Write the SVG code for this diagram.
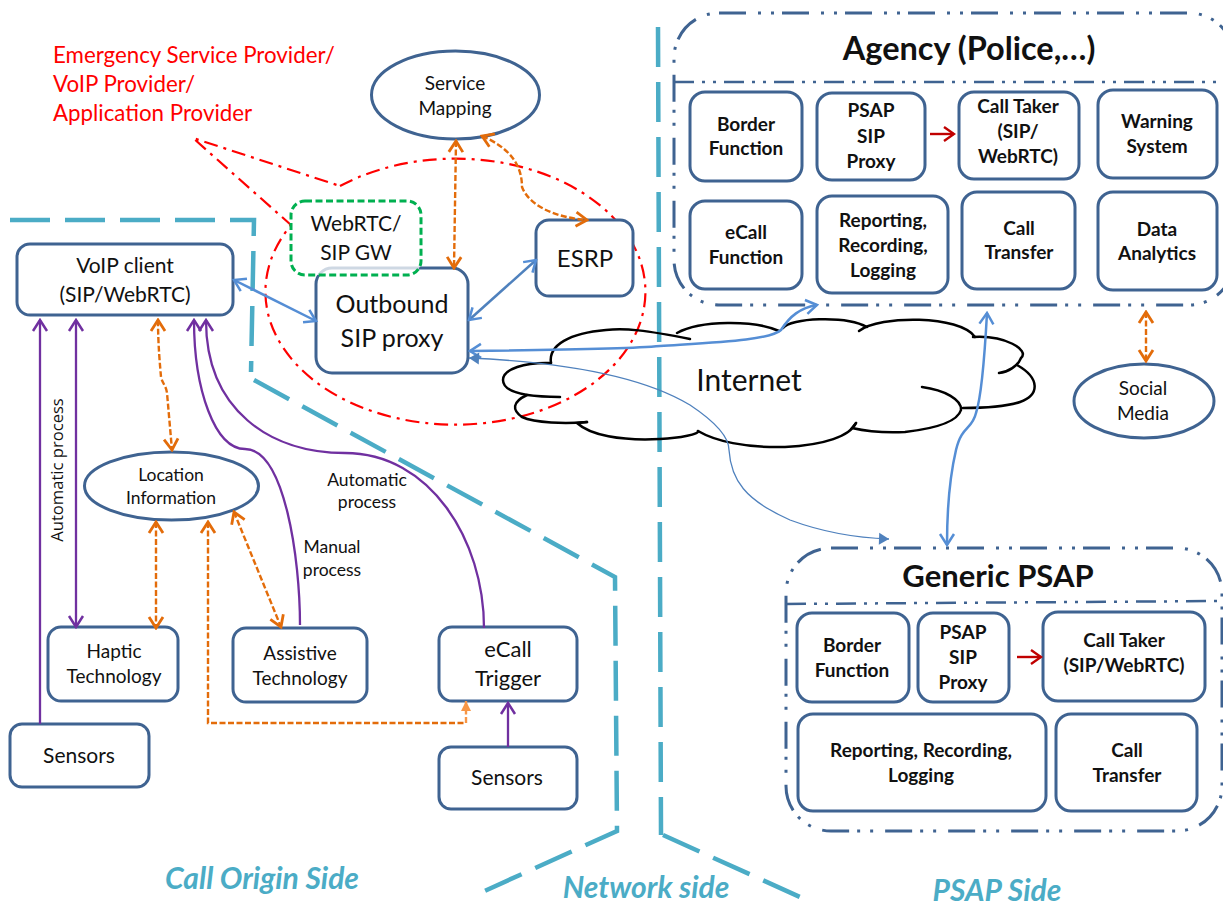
<svg xmlns="http://www.w3.org/2000/svg" width="1223" height="905" viewBox="0 0 1223 905">
<style>
text{font-family:"Lato","Carlito","Liberation Sans",sans-serif;fill:#111;text-anchor:middle}
.n{fill:#fff;stroke:#3f6391;stroke-width:3}
.b{font-weight:700;font-size:19px}
.t{fill:#4bacc6;font-weight:700;font-style:italic;font-size:30px}
.s{font-size:21px}
.m{font-size:19px}
.l{font-size:17.500px}
.tl{fill:none;stroke:#4bacc6;stroke-width:4.5;stroke-dasharray:40 15}
.o{fill:none;stroke:#3f6391;stroke-width:3;stroke-dasharray:27 12 3 10 3 8}
.h{fill:none;stroke:#3f6391;stroke-width:2.5;stroke-dasharray:20 8 3 8 3 8}
.cl{fill:none;stroke:#000;stroke-width:2.5;stroke-linecap:round}
.or{fill:none;stroke:#e36c0a;stroke-width:2.4;stroke-dasharray:6 2.500;marker-start:url(#ao);marker-end:url(#ao)}
.pu{fill:none;stroke:#7030a0;stroke-width:2.300}
.bl{fill:none;stroke:#558ed5;stroke-width:2.500;marker-start:url(#ab);marker-end:url(#ab)}
</style>
<defs>
<marker id="ao" markerUnits="userSpaceOnUse" markerWidth="18" markerHeight="18" viewBox="0 0 18 18" refX="16" refY="9" orient="auto-start-reverse"><path d="M5,2 L16,9 L5,16" fill="none" stroke="#e36c0a" stroke-width="2.800"/></marker>
<marker id="ab" markerUnits="userSpaceOnUse" markerWidth="18" markerHeight="18" viewBox="0 0 18 18" refX="16" refY="9" orient="auto-start-reverse"><path d="M5,2 L16,9 L5,16" fill="none" stroke="#558ed5" stroke-width="2.500"/></marker>
<marker id="ap" markerUnits="userSpaceOnUse" markerWidth="18" markerHeight="18" viewBox="0 0 18 18" refX="16" refY="9" orient="auto-start-reverse"><path d="M5,2 L16,9 L5,16" fill="none" stroke="#7030a0" stroke-width="2.500"/></marker>
<marker id="ar" markerUnits="userSpaceOnUse" markerWidth="18" markerHeight="18" viewBox="0 0 18 18" refX="16" refY="9" orient="auto"><path d="M6,2 L16,9 L6,16" fill="none" stroke="#c00000" stroke-width="2.400"/></marker>
<marker id="af" markerUnits="userSpaceOnUse" markerWidth="14" markerHeight="14" viewBox="0 0 14 14" refX="12" refY="7" orient="auto-start-reverse"><path d="M2,1 L12,7 L2,13 Z" fill="#4f81bd"/></marker>
<marker id="afo" markerUnits="userSpaceOnUse" markerWidth="14" markerHeight="14" viewBox="0 0 14 14" refX="12" refY="7" orient="auto"><path d="M2,2 L12,7 L2,12 Z" fill="#f79646"/></marker>
</defs>

<g id="boundaries">
<path class="tl" d="M10,220 H254 L251,372"/>
<path class="tl" d="M254,380 L615,577 L617,831 L480,893"/>
<path class="tl" d="M658,27 L661,835"/>
<path class="tl" d="M663,835 L800,897"/>
</g>

<g id="provider-callout">
<path d="M340,186 A190,133 0 1 1 291,225 L193,138 Z" fill="none" stroke="#f00" stroke-width="2.2" stroke-dasharray="14 6 3 6"/>
<text x="53" y="63" style="text-anchor:start;fill:#f00" font-size="22.300">Emergency Service Provider/</text>
<text x="53" y="92" style="text-anchor:start;fill:#f00" font-size="22.300">VoIP Provider/</text>
<text x="53" y="121" style="text-anchor:start;fill:#f00" font-size="22.300">Application Provider</text>
</g>

<g id="internet">
<path class="cl" d="M551,363 C548,345 570,333 606,330 C625,328 645,330 690,339"/>
<path class="cl" d="M677,333 C700,320 755,320 779,331"/>
<path class="cl" d="M783,328 C790,318 845,315 867,327"/>
<path class="cl" d="M859,331 C880,315 960,315 975,337"/>
<path class="cl" d="M973,337 C1005,335 1030,350 1021,358 C1018,366 1008,372 999,373"/>
<path class="cl" d="M1017,365 C1040,378 1040,395 1020,402 C1005,407 985,408 963,408"/>
<path class="cl" d="M922,387 C945,390 962,400 961,410 C958,420 940,428 905,432 C885,433 865,431 852,428 L856,423"/>
<path class="cl" d="M856,423 C850,436 825,445 785,447 C745,448 715,441 698,431"/>
<path class="cl" d="M698,431 C700,434 680,438 660,439 C620,441 590,435 577,423 L587,422"/>
<path class="cl" d="M587,422 C565,424 535,423 522,417 C512,410 512,402 527,395"/>
<path class="cl" d="M560,397 C525,397 503,392 503,380 C503,369 525,362 551,363"/>
<text x="749" y="391" font-size="30">Internet</text>
</g>

<g id="service-mapping"><ellipse class="n" cx="455.500" cy="95" rx="84" ry="44"/><text class="m" x="455" y="90">Service</text><text class="m" x="455" y="115">Mapping</text></g>
<g id="outbound-proxy"><rect class="n" x="316" y="268" width="152" height="105" rx="16"/><text x="392" y="313" font-size="25">Outbound</text><text x="392" y="347" font-size="25">SIP proxy</text></g>
<g id="webrtc-gw"><rect x="291" y="201" width="130" height="74" rx="14" fill="#fff" fill-opacity=".75" stroke="#00b050" stroke-width="3" stroke-dasharray="7 3.500"/><text class="s" x="356" y="231">WebRTC/</text><text class="s" x="356" y="260">SIP GW</text></g>
<g id="esrp"><rect class="n" x="536" y="220" width="97" height="76" rx="13"/><text x="585" y="267" font-size="24">ESRP</text></g>
<g id="voip-client"><rect class="n" x="17" y="244" width="216" height="71" rx="13"/><text class="s" x="125" y="273">VoIP client</text><text class="s" x="125" y="302">(SIP/WebRTC)</text></g>
<g id="location-information"><ellipse class="n" cx="171.500" cy="486" rx="87" ry="34"/><text class="l" x="171" y="481">Location</text><text class="l" x="171" y="504">Information</text></g>
<g id="haptic-technology"><rect class="n" x="48" y="627" width="130" height="74" rx="13"/><text class="m" x="114" y="658">Haptic</text><text class="m" x="114" y="683">Technology</text></g>
<g id="assistive-technology"><rect class="n" x="233" y="628" width="134" height="74" rx="13"/><text class="m" x="300" y="660">Assistive</text><text class="m" x="300" y="685">Technology</text></g>
<g id="ecall-trigger"><rect class="n" x="439" y="627" width="138" height="74" rx="13"/><text x="508" y="657" font-size="22">eCall</text><text x="508" y="686" font-size="22">Trigger</text></g>
<g id="sensors-left"><rect class="n" x="10" y="724" width="139" height="63" rx="12"/><text class="s" x="79" y="763">Sensors</text></g>
<g id="sensors-right"><rect class="n" x="439" y="747" width="138" height="62" rx="12"/><text class="s" x="507" y="785">Sensors</text></g>

<g id="agency">
<rect class="o" x="674" y="13" width="560" height="292" rx="45"/>
<path class="h" d="M674,82 H1223"/>
<text x="969" y="60" font-size="32.500" style="font-weight:700">Agency (Police,…)</text>
<g id="agency-border"><rect class="n" x="690" y="92" width="112" height="89" rx="15"/><text class="b" x="746" y="131">Border</text><text class="b" x="746" y="155">Function</text></g>
<g id="agency-proxy"><rect class="n" x="817" y="93" width="108" height="87" rx="15"/><text class="b" x="871" y="117">PSAP</text><text class="b" x="871" y="143">SIP</text><text class="b" x="871" y="168">Proxy</text></g>
<g id="agency-taker"><rect class="n" x="959" y="92" width="120" height="87" rx="15"/><text class="b" x="1018" y="113">Call Taker</text><text class="b" x="1018" y="138">(SIP/</text><text class="b" x="1018" y="163">WebRTC)</text></g>
<g id="agency-warning"><rect class="n" x="1098" y="90" width="119" height="88" rx="15"/><text class="b" x="1157" y="128">Warning</text><text class="b" x="1157" y="153">System</text></g>
<g id="agency-ecall"><rect class="n" x="690" y="201" width="112" height="88" rx="15"/><text class="b" x="746" y="239">eCall</text><text class="b" x="746" y="264">Function</text></g>
<g id="agency-reporting"><rect class="n" x="817" y="196" width="131" height="97" rx="15"/><text class="b" x="883" y="227">Reporting,</text><text class="b" x="883" y="252">Recording,</text><text class="b" x="883" y="277">Logging</text></g>
<g id="agency-transfer"><rect class="n" x="962" y="192" width="113" height="97" rx="15"/><text class="b" x="1019" y="235">Call</text><text class="b" x="1019" y="259">Transfer</text></g>
<g id="agency-analytics"><rect class="n" x="1098" y="192" width="119" height="98" rx="15"/><text class="b" x="1157" y="236">Data</text><text class="b" x="1157" y="260">Analytics</text></g>
</g>
<g id="social-media"><ellipse class="n" cx="1144" cy="401" rx="70" ry="37"/><text class="m" x="1143" y="395">Social</text><text class="m" x="1143" y="420">Media</text></g>

<g id="generic-psap">
<rect class="o" x="786" y="548" width="436" height="283" rx="45"/>
<path class="h" d="M786,604 L1222,601"/>
<text x="998" y="587" font-size="31" style="font-weight:700">Generic PSAP</text>
<g id="psap-border"><rect class="n" x="797" y="613" width="112" height="89" rx="15"/><text class="b" x="852" y="652">Border</text><text class="b" x="852" y="677">Function</text></g>
<g id="psap-proxy"><rect class="n" x="918" y="613" width="91" height="89" rx="15"/><text class="b" x="963" y="639">PSAP</text><text class="b" x="963" y="664">SIP</text><text class="b" x="963" y="689">Proxy</text></g>
<g id="psap-taker"><rect class="n" x="1043" y="612" width="162" height="89" rx="15"/><text class="b" x="1124" y="647">Call Taker</text><text class="b" x="1124" y="672">(SIP/WebRTC)</text></g>
<g id="psap-reporting"><rect class="n" x="798" y="714" width="248" height="97" rx="15"/><text class="b" x="921" y="757">Reporting, Recording,</text><text class="b" x="921" y="782">Logging</text></g>
<g id="psap-transfer"><rect class="n" x="1056" y="714" width="141" height="97" rx="15"/><text class="b" x="1127" y="757">Call</text><text class="b" x="1127" y="782">Transfer</text></g>
</g>

<g id="connectors">
<path class="bl" d="M234,280 L316,321"/>
<path class="bl" style="stroke:#4f81bd" d="M469,320 L536,260"/>
<path class="bl" d="M470,351 C560,350 640,348 660,346 C720,342 770,340 781,330 C790,316 800,308 817,305"/>
<path d="M469,358 C560,362 640,375 690,405 C720,425 729,440 729,450 C731,480 745,500 790,520 C825,533 860,538 889,539" fill="none" stroke="#4f81bd" stroke-width="1.300" marker-start="url(#af)" marker-end="url(#af)"/>
<path class="bl" d="M987,313 C985,350 982,395 976,413 C972,430 962,425 956,450 C949,480 947,510 947,545"/>
<path class="or" d="M456,141 L454,268"/>
<path class="or" d="M482,136 C510,148 522,165 522,187 C530,208 560,218 587,220"/>
<path class="or" d="M158,320 C158,345 160,365 161,377 C163,385 166,385 167,393 L172,450"/>
<path class="or" d="M156,522 L156,628"/>
<path class="or" d="M234,512 L281,627"/>
<path class="or" d="M1146,312 L1146,361"/>
<path d="M208,522 V723 H466" fill="none" stroke="#e36c0a" stroke-width="2.400" stroke-dasharray="6 2.500" marker-start="url(#ao)"/>
<path d="M466,723 V701" fill="none" stroke="#f79646" stroke-width="2.400" stroke-dasharray="6 2.500" marker-end="url(#afo)"/>
<path class="pu" d="M40,724 V320" marker-end="url(#ap)"/>
<path class="pu" d="M76,320 V627" marker-start="url(#ap)" marker-end="url(#ap)"/>
<path class="pu" d="M300,625 C300,560 285,449 245,449 C215,449 194,390 194,320" marker-end="url(#ap)"/>
<path class="pu" d="M484,628 C484,540 430,453 345,453 C270,453 206,410 206,320" marker-end="url(#ap)"/>
<path class="pu" d="M508,747 V703" marker-end="url(#ap)"/>
<path d="M930,134 H954" fill="none" stroke="#c00000" stroke-width="2.400" marker-end="url(#ar)"/>
<path d="M1017,657 H1041" fill="none" stroke="#c00000" stroke-width="2.400" marker-end="url(#ar)"/>
</g>

<g id="labels">
<text transform="translate(63,470) rotate(-90)" font-size="16.600" style="font-family:'Open Sans',sans-serif">Automatic process</text>
<text class="l" x="367" y="486">Automatic</text><text class="l" x="367" y="508">process</text>
<text class="l" x="332" y="553">Manual</text><text class="l" x="332" y="576">process</text>
<text class="t" x="262" y="889">Call Origin Side</text>
<text class="t" x="646" y="898">Network side</text>
<text class="t" x="997" y="901">PSAP Side</text>
</g>
</svg>
